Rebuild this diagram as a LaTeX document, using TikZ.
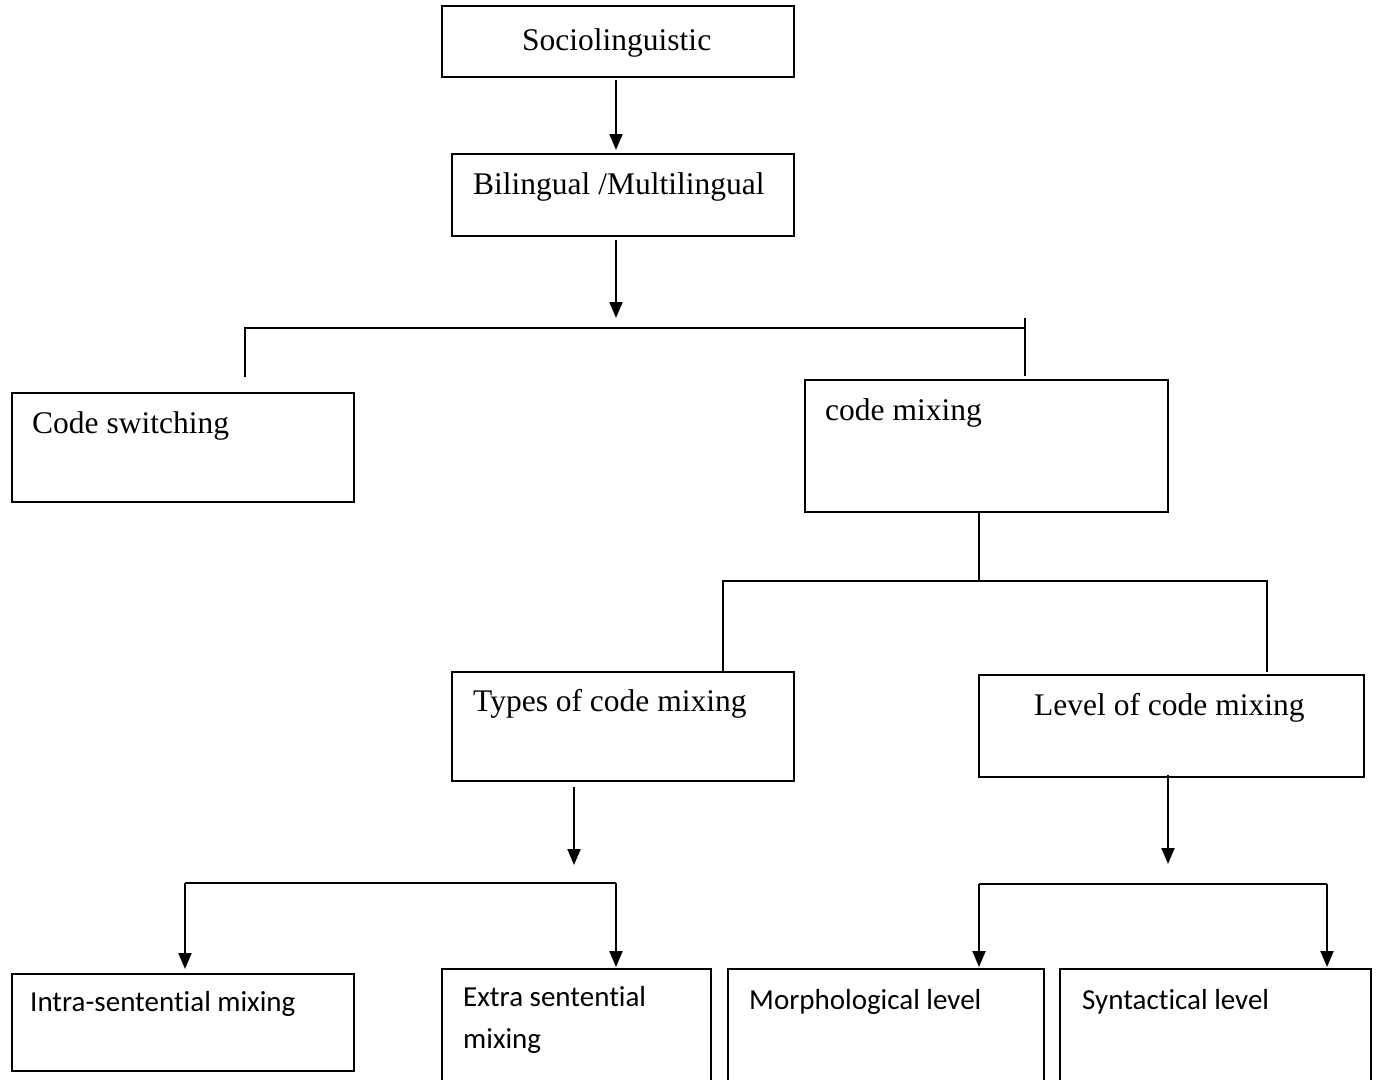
\documentclass[tikz,border=0pt]{standalone}
\usepackage{fontspec}
\setmainfont{Liberation Serif}
\newfontfamily\calib[Ligatures=CommonOff]{Carlito}
\usetikzlibrary{arrows.meta}
\begin{document}
\begin{tikzpicture}[x=1pt,y=-1pt,
  box/.style={draw, line width=2pt, inner sep=0pt, anchor=north west},
  lab/.style={anchor=base west, inner sep=0pt, font=\fontsize{31.5}{36}\selectfont},
  slab/.style={anchor=base west, inner sep=0pt, font=\calib\fontsize{29}{34}\selectfont},
  conn/.style={line width=2pt},
  arr/.style={conn, -{Triangle[width=13pt,length=16pt]}}]
\useasboundingbox (0,0) rectangle (1380,1079);
\clip (0,0) rectangle (1380,1079);

% boxes
\node[box, minimum width=352pt, minimum height=71pt]  (soc)   at (441,5)   {};
\node[box, minimum width=342pt, minimum height=82pt]  (bil)   at (451,153) {};
\node[box, minimum width=342pt, minimum height=109pt] (cs)    at (11,392)  {};
\node[box, minimum width=363pt, minimum height=132pt] (cm)    at (804,379) {};
\node[box, minimum width=342pt, minimum height=109pt] (types) at (451,671) {};
\node[box, minimum width=385pt, minimum height=102pt] (level) at (978,674) {};
\node[box, minimum width=342pt, minimum height=97pt]  (intra) at (11,973)  {};
\node[box, minimum width=269pt, minimum height=130pt] (extra) at (441,968) {};
\node[box, minimum width=316pt, minimum height=130pt] (morph) at (727,968) {};
\node[box, minimum width=311pt, minimum height=130pt] (synt)  at (1059,968) {};

% texts
\node[lab] (tsoc)   at (522,50)  {Sociolinguistic};
\node[lab] (tbil)   at (473,194) {Bilingual /Multilingual};
\node[lab] (tcs)    at (32,433)  {Code switching};
\node[lab] (tcm)    at (825,420) {code mixing};
\node[lab] (ttypes) at (473,711) {Types of code mixing};
\node[lab] (tlevel) at (1034,715) {Level of code mixing};
\node[slab] (tintra)  at (30,1011)  {Intra-sentential mixing};
\node[slab] (textra1) at (463,1006) {Extra sentential};
\node[slab] (textra2) at (463,1048) {mixing};
\node[slab] (tmorph)  at (749,1009) {Morphological level};
\node[slab] (tsynt)   at (1082,1009) {Syntactical level};

% junction coordinates
\coordinate (a1) at (616,150);
\coordinate (j1) at (616,318);
\coordinate (hl) at (245,328);
\coordinate (hr) at (1025,328);
\coordinate (cl) at (245,377);
\coordinate (rt) at (1025,318);
\coordinate (rb) at (1025,376);
\coordinate (m1) at (979,581);
\coordinate (ml) at (723,581);
\coordinate (mr) at (1267,581);
\coordinate (mrb) at (1267,672);
\coordinate (t1) at (574,865);
\coordinate (tl) at (185,883);
\coordinate (tr) at (616,883);
\coordinate (l1) at (1168,864);
\coordinate (ll) at (979,884);
\coordinate (lr) at (1327,884);

% connectors
\draw[arr] (a1 |- soc.south) ++(0,2) -- (a1);
\draw[arr] (j1 |- bil.south) ++(0,3) -- (j1);
\draw[conn] (cl) -- (hl) -- (hr);
\draw[conn] (rt) -- (rb);
\draw[conn] (m1 |- cm.south) -- (m1);
\draw[conn] (ml |- types.north) -- (ml) -- (mr) -- (mrb);
\draw[arr] (t1 |- types.south) ++(0,5) -- (t1);
\draw[conn] (tl) -- (tr);
\draw[arr, shorten >=4pt] (tl) -- (tl |- intra.north);
\draw[arr, shorten >=1pt] (tr) -- (tr |- extra.north);
\draw[arr] (l1 |- level.south) ++(0,-3) -- (l1);
\draw[conn] (ll) -- (lr);
\draw[arr, shorten >=1pt] (ll) -- (ll |- morph.north);
\draw[arr, shorten >=1pt] (lr) -- (lr |- synt.north);
\end{tikzpicture}
\end{document}
